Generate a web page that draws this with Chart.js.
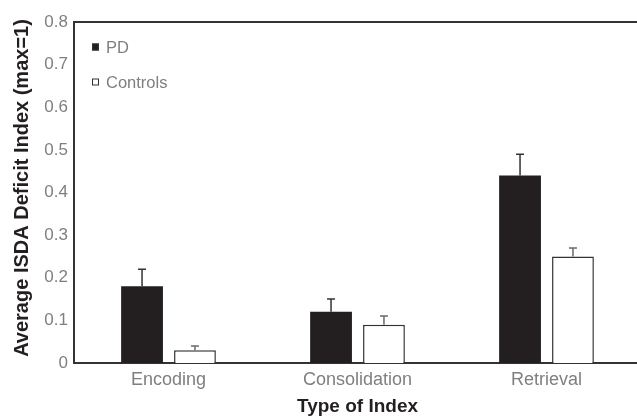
<!DOCTYPE html>
<html>
<head>
<meta charset="utf-8">
<script src="https://cdn.jsdelivr.net/npm/chart.js@4.4.0/dist/chart.umd.min.js"></script>
<style>
  html, body { margin: 0; padding: 0; background: #fff; overflow: hidden; }
  #wrap { width: 645px; height: 418px; }
</style>
</head>
<body>
<div id="wrap"><canvas id="chart" width="645" height="418"></canvas></div>
<script>
// data
const categories = ['Encoding', 'Consolidation', 'Retrieval'];
const pdValues = [0.18, 0.12, 0.44];
const pdErrors = [0.04, 0.03, 0.05];
const controlValues = [0.03, 0.09, 0.25];
const controlErrors = [0.01, 0.02, 0.02];
const yTickLabels = ['0', '0.1', '0.2', '0.3', '0.4', '0.5', '0.6', '0.7', '0.8'];
const yTitle = 'Average ISDA Deficit Index (max=1)';

const FONT = '"Liberation Sans", Arial, sans-serif';
const GREY = '#7f7f7f';
const INK = '#231f20';

// error bars on top of each bar
const errorBars = {
  id: 'errorBars',
  afterDatasetsDraw(chart) {
    const c = chart.ctx;
    const y = chart.scales.y;
    chart.data.datasets.forEach((ds, i) => {
      const meta = chart.getDatasetMeta(i);
      meta.data.forEach((bar, j) => {
        const top = y.getPixelForValue(ds.data[j] + ds.errors[j]);
        c.save();
        c.strokeStyle = ds.errorColor;
        c.lineWidth = 1.5;
        c.beginPath();
        c.moveTo(bar.x, bar.y);
        c.lineTo(bar.x, top);
        c.moveTo(bar.x - 4, top);
        c.lineTo(bar.x + 4, top);
        c.stroke();
        c.restore();
      });
    });
  }
};

// top frame line, y title and legend inside the plot
const extras = {
  id: 'extras',
  afterDraw(chart) {
    const c = chart.ctx;
    const a = chart.chartArea;
    c.save();
    c.strokeStyle = '#333';
    c.lineWidth = 2;
    c.beginPath();
    c.moveTo(a.left - 1, a.top);
    c.lineTo(a.right, a.top);
    c.stroke();

    // rotated y axis title
    c.save();
    c.translate(28, 188);
    c.rotate(-Math.PI / 2);
    c.font = 'bold 20px ' + FONT;
    c.fillStyle = INK;
    c.textAlign = 'center';
    c.textBaseline = 'alphabetic';
    c.fillText(yTitle, 0, 0);
    c.restore();

    c.font = '16.5px ' + FONT;
    c.textBaseline = 'middle';
    chart.data.datasets.forEach((ds, i) => {
      const ly = 47 + i * 35;
      c.fillStyle = ds.backgroundColor;
      c.fillRect(92, ly - 3.5, 7, 7);
      c.strokeStyle = '#333';
      c.lineWidth = 1;
      c.strokeRect(92.5, ly - 3, 6, 6);
      c.fillStyle = GREY;
      c.fillText(ds.label, 106, ly + 1);
    });
    c.restore();
  }
};

new Chart(document.getElementById('chart'), {
  type: 'bar',
  data: {
    labels: categories,
    datasets: [{
      label: 'PD',
      data: pdValues,
      errors: pdErrors,
      errorColor: '#333',
      backgroundColor: INK,
      borderColor: INK,
      borderWidth: 0,
      barPercentage: 0.79,
      categoryPercentage: 0.56
    }, {
      label: 'Controls',
      data: controlValues,
      errors: controlErrors,
      errorColor: '#6a6a6a',
      backgroundColor: '#ffffff',
      borderColor: '#333',
      borderWidth: 1.5,
      barPercentage: 0.79,
      categoryPercentage: 0.56
    }]
  },
  options: {
    responsive: false,
    animation: false,
    layout: { padding: { top: 22, right: 4, left: 0, bottom: 0 } },
    plugins: { legend: { display: false }, tooltip: { enabled: false } },
    scales: {
      x: {
        grid: { display: false, drawTicks: false },
        border: { color: '#333', width: 2 },
        ticks: { color: GREY, font: { family: FONT, size: 18 }, padding: 6 },
        title: { display: true, text: 'Type of Index', color: INK,
          font: { family: FONT, size: 19, weight: 'bold' }, padding: { top: 0, bottom: 0 } },
        afterFit(s) { s.height = 55; }
      },
      y: {
        min: 0, max: 0.8,
        grid: { display: false, drawTicks: false },
        border: { color: '#333', width: 2 },
        ticks: {
          stepSize: 0.1, color: GREY, padding: 6,
          font: { family: FONT, size: 17 },
          callback: (v, i) => yTickLabels[i]
        },
        afterFit(s) { s.width = 74; }
      }
    }
  },
  plugins: [errorBars, extras]
});
</script>
</body>
</html>
